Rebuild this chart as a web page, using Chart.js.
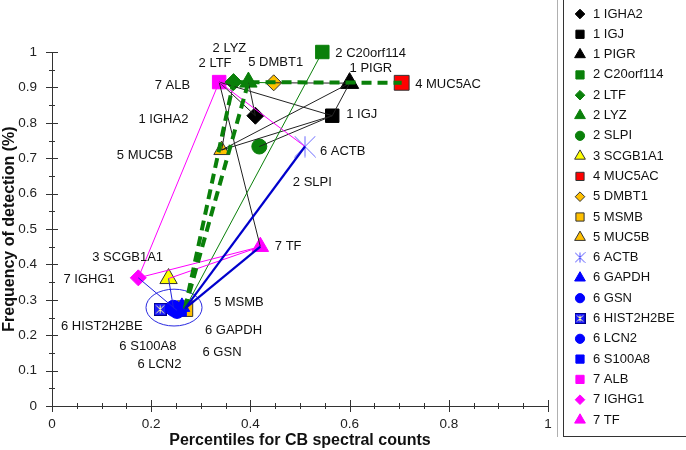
<!DOCTYPE html>
<html><head><meta charset="utf-8">
<script src="https://cdn.jsdelivr.net/npm/chart.js@4.4.1/dist/chart.umd.min.js"></script>
<style>html,body{margin:0;padding:0;background:#fff;}#wrap{width:686px;height:450px;position:relative;}</style>
</head><body><div id="wrap"><canvas id="c" width="686" height="450"></canvas></div>
<script>
// ---------------- DATA ----------------
const genes = ['1 IGHA2','1 IGJ','1 PIGR','2 C20orf114','2 LTF','2 LYZ','2 SLPI','3 SCGB1A1','4 MUC5AC','5 DMBT1','5 MSMB','5 MUC5B','6 ACTB','6 GAPDH','6 GSN','6 HIST2H2BE','6 LCN2','6 S100A8','7 ALB','7 IGHG1','7 TF'];
const percentileCB = [0.41,0.565,0.60,0.545,0.366,0.396,0.418,0.235,0.705,0.447,0.268,0.342,0.51,0.262,0.245,0.218,0.252,0.258,0.337,0.174,0.42];
const detectionFreq = [0.82,0.82,0.912,1.0,0.915,0.915,0.733,0.36,0.913,0.913,0.275,0.723,0.733,0.28,0.276,0.273,0.27,0.272,0.915,0.362,0.45];
const xTickValues = [0,0.2,0.4,0.6,0.8,1];
const xTickLabels = ['0','0.2','0.4','0.6','0.8','1'];
const yTickValues = [0,0.1,0.2,0.3,0.4,0.5,0.6,0.7,0.8,0.9,1];
const yTickLabels = ['0','0.1','0.2','0.3','0.4','0.5','0.6','0.7','0.8','0.9','1'];
const blackLinks = [['5 DMBT1','1 PIGR'],['1 PIGR','1 IGJ'],['7 ALB','1 IGJ'],['7 ALB','1 IGHA2'],['2 LYZ','1 IGHA2'],['7 ALB','7 TF'],['2 LTF','5 MUC5B'],['5 MUC5B','1 PIGR'],['5 MUC5B','1 IGJ'],['2 SLPI','1 IGJ']];
const greenThinLinks = [['2 C20orf114','5 MSMB'],['2 LTF','5 DMBT1']];
const greenDashedLinks = [['5 MSMB','2 LTF'],['5 MSMB','2 LYZ'],['2 LTF','4 MUC5AC']];
const magentaLinks = [['7 ALB','7 IGHG1'],['7 ALB','6 ACTB'],['7 IGHG1','7 TF'],['3 SCGB1A1','7 TF']];
const blueThickLinks = [['6 ACTB','5 MSMB'],['7 TF','5 MSMB']];
const blueThinLinks = [['7 IGHG1','6 LCN2'],['3 SCGB1A1','6 GSN']];
const clusterCenter = [0.246, 0.278];
const clusterRadii = [0.0565, 0.052];

// ---------------- STYLES ----------------
const FONT = "'Liberation Sans', Arial, sans-serif";
function asterisk(size, color, bg) {
  const c = document.createElement('canvas'); c.width = size; c.height = size;
  const g = c.getContext('2d');
  if (bg) { g.fillStyle = bg; g.fillRect(0,0,size,size); g.strokeStyle = '#00008b'; g.lineWidth = 1; g.strokeRect(0.5,0.5,size-1,size-1); }
  const m = bg ? 2.5 : 0.5;
  g.strokeStyle = color; g.lineWidth = 1;
  g.beginPath();
  g.moveTo(size/2, m); g.lineTo(size/2, size-m);
  g.moveTo(m, m); g.lineTo(size-m, size-m);
  g.moveTo(size-m, m); g.lineTo(m, size-m);
  g.stroke();
  return c;
}
const actbPlot = asterisk(22, '#6a6aff');
const actbLegend = asterisk(11, '#5050ff');
const histPlot = asterisk(13, '#ffffa0', '#1a1aff');
const histLegend = asterisk(11, '#ffffa0', '#1a1aff');
const GREEN = '#0a800a', GOLD = '#ffc000', BLUE = '#0000ff', MAG = '#ff00ff';
const markerStyle = {
  '1 IGHA2':    {shape:'rectRot', r:8.5, fill:'#000', stroke:'#000', lr:4.8},
  '1 IGJ':      {shape:'rect', r:9.5, fill:'#000', stroke:'#000', lr:5.8},
  '1 PIGR':     {shape:'triangle', r:10.5, fill:'#000', stroke:'#000', lr:6.2},
  '2 C20orf114':{shape:'rect', r:9.5, fill:GREEN, stroke:GREEN, lr:5.8},
  '2 LTF':      {shape:'rectRot', r:8.5, fill:GREEN, stroke:GREEN, lr:4.8},
  '2 LYZ':      {shape:'triangle', r:10, fill:GREEN, stroke:GREEN, lr:6.2},
  '2 SLPI':     {shape:'circle', r:7.5, fill:GREEN, stroke:GREEN, lr:4.6},
  '3 SCGB1A1':  {shape:'triangle', r:10, fill:'#ffff00', stroke:'#333', lr:6.2},
  '4 MUC5AC':   {shape:'rect', r:10.5, fill:'#ff0000', stroke:'#333', lr:5.8},
  '5 DMBT1':    {shape:'rectRot', r:8, fill:GOLD, stroke:'#333', lr:4.8},
  '5 MSMB':     {shape:'rect', r:11, fill:GOLD, stroke:'#333', lr:5.8},
  '5 MUC5B':    {shape:'triangle', r:9, fill:GOLD, stroke:'#333', lr:6.2},
  '6 ACTB':     {shape:actbPlot, legend:actbLegend, r:10, fill:BLUE, stroke:BLUE, lr:5},
  '6 GAPDH':    {shape:'triangle', r:9, fill:BLUE, stroke:BLUE, lr:6.2},
  '6 GSN':      {shape:'circle', r:8, fill:BLUE, stroke:BLUE, lr:4.6},
  '6 HIST2H2BE':{shape:histPlot, legend:histLegend, r:7, fill:BLUE, stroke:BLUE, lr:5},
  '6 LCN2':     {shape:'circle', r:8, fill:BLUE, stroke:BLUE, lr:4.6},
  '6 S100A8':   {shape:'rect', r:9, fill:BLUE, stroke:BLUE, lr:5.8},
  '7 ALB':      {shape:'rect', r:9.5, fill:MAG, stroke:MAG, lr:5.8},
  '7 IGHG1':    {shape:'rectRot', r:8, fill:MAG, stroke:MAG, lr:4.8},
  '7 TF':       {shape:'triangle', r:9.5, fill:MAG, stroke:MAG, lr:6.2}
};
// draw-order layers (higher = drawn underneath)
const markerLayer = {'5 MSMB': 2};
// label placement: [dx, dy, align] in pixels relative to the point
const labelPlace = {
  '1 IGHA2':[-67,4,'right'], '1 IGJ':[14,-1,'left'], '1 PIGR':[0,-15,'left'],
  '2 C20orf114':[13,1,'left'], '2 LTF':[-18.5,-19,'center'], '2 LYZ':[-19,-34,'center'],
  '2 SLPI':[33.5,36,'left'], '3 SCGB1A1':[-5.5,-21.5,'right'], '4 MUC5AC':[13.5,2,'left'],
  '5 DMBT1':[2,-20,'center'], '5 MSMB':[29,-6,'left'], '5 MUC5B':[-48.5,5,'right'],
  '6 ACTB':[15,5,'left'], '6 GAPDH':[23,24,'left'], '6 GSN':[29,44,'left'],
  '6 HIST2H2BE':[-17.5,17.5,'right'], '6 LCN2':[4.5,54.5,'right'], '6 S100A8':[-3.5,36.5,'right'],
  '7 ALB':[-29,3,'right'], '7 IGHG1':[-23.5,2,'right'], '7 TF':[14.5,0,'left']
};
const linkStyles = [
  {links: blueThickLinks, color:'#0000cc', width:2.2, dash:[]},
  {links: greenDashedLinks, color:GREEN, width:4, dash:[10,6]},
  {links: blueThinLinks, color:'#2020dd', width:1, dash:[]},
  {links: magentaLinks, color:MAG, width:1, dash:[]},
  {links: greenThinLinks, color:GREEN, width:1, dash:[]},
  {links: blackLinks, color:'#222', width:1, dash:[]}
];

// ---------------- DATASETS ----------------
const idx = g => genes.indexOf(g);
const datasets = [];
linkStyles.forEach(ls => {
  ls.links.forEach(([a, b]) => {
    datasets.push({
      type:'scatter', showLine:true, label:a+'-'+b, isLink:true,
      data:[{x:percentileCB[idx(a)], y:detectionFreq[idx(a)]},{x:percentileCB[idx(b)], y:detectionFreq[idx(b)]}],
      borderColor:ls.color, borderWidth:ls.width, borderDash:ls.dash, pointRadius:0, pointHoverRadius:0,
      order:0, clip:false
    });
  });
});
genes.forEach((g, i) => {
  const s = markerStyle[g];
  datasets.push({
    type:'scatter', label:g, gene:g,
    data:[{x:percentileCB[i], y:detectionFreq[i]}],
    pointStyle:s.shape, pointRadius:s.r, pointHoverRadius:s.r,
    backgroundColor:s.fill, borderColor:s.stroke, borderWidth:1,
    order:markerLayer[g] || 1, clip:false
  });
});

// ---------------- PLUGINS ----------------
const bgPlugin = {id:'bg', beforeDraw(chart){const c=chart.ctx;c.save();c.fillStyle='#fff';c.fillRect(0,0,chart.width,chart.height);c.restore();}};

const ellipsePlugin = {id:'ellipse', beforeDatasetsDraw(chart){
  const {x, y} = chart.scales; const c = chart.ctx;
  const cx = x.getPixelForValue(clusterCenter[0]), cy = y.getPixelForValue(clusterCenter[1]);
  const rx = Math.abs(x.getPixelForValue(clusterCenter[0]+clusterRadii[0]) - cx);
  const ry = Math.abs(y.getPixelForValue(clusterCenter[1]+clusterRadii[1]) - cy);
  c.save(); c.strokeStyle='#2a2ae0'; c.lineWidth=1; c.beginPath(); c.ellipse(cx,cy,rx,ry,0,0,Math.PI*2); c.stroke(); c.restore();
}};

const ticksPlugin = {id:'tickmarks', afterDraw(chart){
  const {x, y} = chart.scales; const c = chart.ctx; const a = chart.chartArea;
  c.save(); c.strokeStyle='#333'; c.lineWidth=1; c.beginPath();
  for (let k=0;k<=20;k++){ const v=k*0.05; const px=Math.round(x.getPixelForValue(v))+0.5; const major = k%4===0; const L = major?6:3;
    c.moveTo(px, a.bottom-L); c.lineTo(px, a.bottom+L); }
  for (let k=0;k<=20;k++){ const v=k*0.05; const py=Math.round(y.getPixelForValue(v))+0.5; const major = k%2===0; const L = major?6:3;
    c.moveTo(a.left-L, py); c.lineTo(a.left+L, py); }
  c.stroke(); c.restore();
}};

const labelPlugin = {id:'labels', afterDatasetsDraw(chart){
  const {x, y} = chart.scales; const c = chart.ctx;
  c.save(); c.font = '13px '+FONT; c.fillStyle='#111'; c.textBaseline='middle';
  genes.forEach((g,i)=>{
    const p = labelPlace[g]; const px = x.getPixelForValue(percentileCB[i]) + p[0]; const py = y.getPixelForValue(detectionFreq[i]) + p[1];
    c.textAlign = p[2]; c.fillText(g, px, py);
  });
  c.restore();
}};

const legendPlugin = {id:'boxLegend', afterDraw(chart){
  const c = chart.ctx;
  c.save();
  c.strokeStyle='#b0b0b0'; c.lineWidth=1; c.beginPath(); c.moveTo(557.5,0); c.lineTo(557.5,437); c.stroke();
  c.strokeStyle='#333'; c.strokeRect(563.5,-1,130,437.5);
  c.font='13px '+FONT; c.textBaseline='middle'; c.textAlign='left';
  chart.data.datasets.filter(d=>d.gene).forEach((d,i)=>{
    const s = markerStyle[d.gene]; const yy = 14 + i*20.3;
    c.fillStyle = s.fill; c.strokeStyle = s.stroke; c.lineWidth = 1;
    Chart.helpers.drawPoint(c, {pointStyle: s.legend || s.shape, radius: s.lr, borderWidth:1, rotation:0}, 580, yy);
    c.fillStyle = '#111'; c.fillText(d.label, 593, yy);
  });
  c.restore();
}};

// ---------------- CHART ----------------
new Chart(document.getElementById('c'), {
  type:'scatter',
  data:{datasets},
  plugins:[bgPlugin, ellipsePlugin, labelPlugin, ticksPlugin, legendPlugin],
  options:{
    responsive:false, animation:false, devicePixelRatio:1,
    layout:{padding:{top:52, right:138, bottom:0, left:0}},
    plugins:{legend:{display:false}, tooltip:{enabled:false}},
    scales:{
      x:{type:'linear', min:0, max:1,
        afterFit(s){ s.height = 44; },
        afterBuildTicks(s){ s.ticks = xTickValues.map(v=>({value:v})); },
        grid:{display:false}, border:{display:true, color:'#333', width:1},
        ticks:{autoSkip:false, maxRotation:0, padding:2, color:'#222', font:{family:FONT, size:13.5}, callback:(v,i)=>xTickLabels[i]},
        title:{display:true, text:'Percentiles for CB spectral counts', color:'#111', padding:{top:0,bottom:0}, font:{family:FONT, size:16, weight:'bold'}}
      },
      y:{type:'linear', min:0, max:1,
        afterFit(s){ s.width = 52; },
        afterBuildTicks(s){ s.ticks = yTickValues.map(v=>({value:v})); },
        grid:{display:false}, border:{display:true, color:'#333', width:1},
        ticks:{autoSkip:false, padding:7, color:'#222', font:{family:FONT, size:13.5}, callback:(v,i)=>yTickLabels[i]},
        title:{display:true, text:'Frequency of detection (%)', color:'#111', padding:{top:0,bottom:0}, font:{family:FONT, size:16, weight:'bold'}}
      }
    }
  }
});
</script></body></html>
